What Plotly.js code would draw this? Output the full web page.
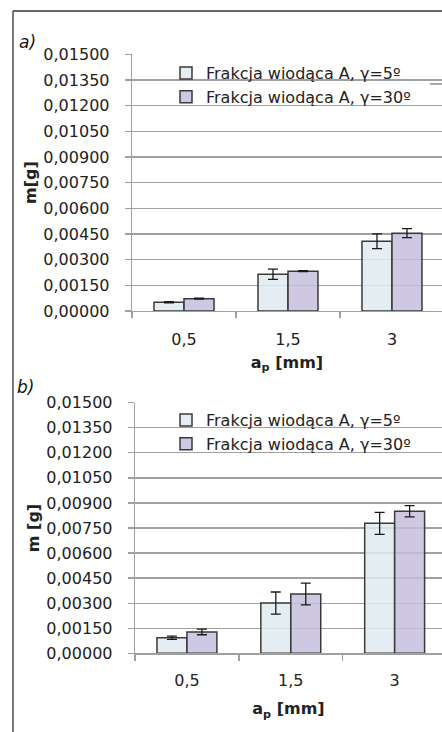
<!DOCTYPE html>
<html>
<head>
<meta charset="utf-8">
<script src="https://cdn.plot.ly/plotly-3.0.1.min.js"></script>
<style>
html,body{margin:0;padding:0;background:#fff;overflow:hidden;}
#chart{width:442px;height:732px;}
</style>
</head>
<body>
<div id="chart"></div>
<script>
// ---- data ----
const categories = ["0,5", "1,5", "3"];
const seriesNames = ["Frakcja wiodąca A, γ=5º", "Frakcja wiodąca A, γ=30º"];

// chart a)
const a_g5 = [0.00051, 0.00215, 0.00408];
const a_g5_err = [0.00003, 0.00030, 0.00043];
const a_g30 = [0.00072, 0.00233, 0.00455];
const a_g30_err = [0.00003, 0.00003, 0.00026];

// chart b)
const b_g5 = [0.00093, 0.00301, 0.00778];
const b_g5_err = [0.00010, 0.00066, 0.00066];
const b_g30 = [0.00128, 0.00355, 0.00850];
const b_g30_err = [0.00017, 0.00065, 0.00034];

const yTicks = [0, 0.0015, 0.003, 0.0045, 0.006, 0.0075, 0.009, 0.0105, 0.012, 0.0135, 0.015];

// ---- styles ----
const FONT = "DejaVu Sans";
const col5 = "rgba(222,234,240,0.85)";
const col30 = "rgba(198,190,222,0.85)";
const lineCol = "#3a3a3a";
const gridCol = "#a0a0a0";
const W = 442, H = 732;

function bar(x, y, err, name, color, xa, ya, leg) {
  return {
    type: "bar", x: x, y: y, name: name,
    xaxis: xa, yaxis: ya, legend: leg,
    marker: {color: color, line: {color: lineCol, width: 1.5}},
    error_y: {type: "data", array: err, visible: true, color: "#1a1a1a", thickness: 1.3, width: 5}
  };
}

const traces = [
  bar(categories, a_g5, a_g5_err, seriesNames[0], col5, "x", "y", "legend"),
  bar(categories, a_g30, a_g30_err, seriesNames[1], col30, "x", "y", "legend"),
  bar(categories, b_g5, b_g5_err, seriesNames[0], col5, "x2", "y2", "legend2"),
  bar(categories, b_g30, b_g30_err, seriesNames[1], col30, "x2", "y2", "legend2")
];

function xax(domain, range, anchor, labStand, titleStand) {
  return {
    domain: domain, anchor: anchor, type: "category", range: range,
    tickson: "boundaries", ticks: "outside", ticklen: 6, tickcolor: gridCol, tickwidth: 1.3,
    showline: true, linecolor: gridCol, linewidth: 1.3,
    showgrid: false, zeroline: false,
    tickfont: {family: FONT, size: 16, color: "#222"},
    ticklabelstandoff: labStand,
    title: {text: "<b>a<sub>p</sub> [mm]</b>", font: {family: FONT, size: 16, color: "#222"}, standoff: titleStand}
  };
}
function yax(domain, anchor, title) {
  return {
    domain: domain, anchor: anchor, range: [0, 0.015],
    tickvals: yTicks, tickformat: ".5f",
    ticks: "outside", ticklen: 6, tickcolor: gridCol, tickwidth: 1.3,
    showline: true, linecolor: gridCol, linewidth: 1.3,
    showgrid: true, gridcolor: gridCol, gridwidth: 1.3, zeroline: false,
    tickfont: {family: FONT, size: 16, color: "#222"},
    ticklabelstandoff: 12,
    title: {text: "<b>" + title + "</b>", font: {family: FONT, size: 16, color: "#222"}, standoff: 2}
  };
}

const layout = {
  width: W, height: H,
  margin: {l: 0, r: 0, t: 0, b: 0},
  paper_bgcolor: "#fff", plot_bgcolor: "#fff",
  separators: ", ",
  barmode: "group", bargap: 0.423, bargroupgap: 0,
  font: {family: FONT, size: 16, color: "#222"},
  xaxis: xax([132 / W, 1], [-0.5, 2.481], "y", 13, 9),
  yaxis: yax([1 - 311 / H, 1 - 54.3 / H], "x", "m[g]"),
  xaxis2: xax([135 / W, 1], [-0.5, 2.456], "y2", 12, 14),
  yaxis2: yax([1 - 653.3 / H, 1 - 402.7 / H], "x2", "m [g]"),
  legend: {x: 166 / W, y: 1 - 56 / H, xanchor: "left", yanchor: "top", bgcolor: "rgba(0,0,0,0)",
           font: {family: FONT, size: 16, color: "#222"}, traceorder: "normal", itemwidth: 30},
  legend2: {x: 166 / W, y: 1 - 403 / H, xanchor: "left", yanchor: "top", bgcolor: "rgba(0,0,0,0)",
           font: {family: FONT, size: 16, color: "#222"}, traceorder: "normal", itemwidth: 30},
  annotations: [
    {text: "<i>a)</i>", xref: "paper", yref: "paper", x: 17 / W, y: 1 - 42 / H, xanchor: "left", yanchor: "middle",
     showarrow: false, font: {family: FONT, size: 17, color: "#111"}},
    {text: "<i>b)</i>", xref: "paper", yref: "paper", x: 15 / W, y: 1 - 387 / H, xanchor: "left", yanchor: "middle",
     showarrow: false, font: {family: FONT, size: 17, color: "#111"}}
  ],
  shapes: [
    {type: "line", xref: "paper", yref: "paper", x0: 13 / W, x1: 13 / W, y0: 0, y1: 1 - 11 / H, line: {color: "#333", width: 1.3}},
    {type: "line", xref: "paper", yref: "paper", x0: 13 / W, x1: 1, y0: 1 - 11 / H, y1: 1 - 11 / H, line: {color: "#333", width: 1.3}},
    {type: "line", xref: "paper", yref: "paper", x0: 430 / W, x1: 1, y0: 1 - 84 / H, y1: 1 - 84 / H, line: {color: "#555", width: 1}}
  ]
};

Plotly.newPlot("chart", traces, layout, {displayModeBar: false, staticPlot: true});
</script>
</body>
</html>
